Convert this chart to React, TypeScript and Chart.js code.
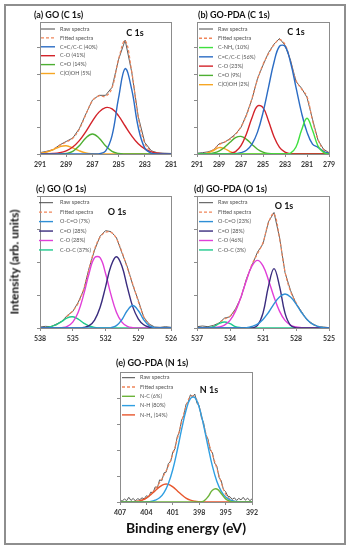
import React, { useEffect, useRef } from "react";
import { Chart, registerables } from "chart.js";
Chart.register(...registerables);

const W = 352;
const H = 550;
const FONT = "Lato, 'Open Sans', sans-serif";
const XAXIS_H = 18;

// ---------- (a) GO (C 1s) ----------
const aEnergy = [291, 290.5, 290, 289.5, 289, 288.5, 288, 287.5, 287, 286.5, 286, 285.5, 285, 284.5, 284, 283.5, 283, 282.5, 282, 281.5, 281];
const aTicks = [291, 289, 287, 285, 283, 281];
const aRaw = [0.05, 0.1, 0.16, 0.34, 0.47, 0.6, 0.95, 1.5, 2.02, 2.2, 2.2, 2.5, 3.55, 4.27, 3.08, 1.4, 0.43, 0.12, 0.04, 0.03, 0.02];
const aFitted = [0.02, 0.08, 0.18, 0.32, 0.45, 0.59, 0.93, 1.48, 1.99, 2.18, 2.16, 2.48, 3.56, 4.25, 3.1, 1.38, 0.41, 0.11, 0.03, 0.01, 0];
const aCC = [0, 0, 0, 0, 0, 0, 0, 0, 0, 0.01, 0.11, 0.69, 2.11, 3.2, 2.42, 1.0, 0.22, 0.03, 0, 0, 0];
const aCO = [0, 0.01, 0.02, 0.05, 0.12, 0.26, 0.5, 0.84, 1.23, 1.57, 1.74, 1.69, 1.43, 1.05, 0.68, 0.38, 0.19, 0.08, 0.03, 0.01, 0];
const aCdO = [0, 0, 0, 0, 0.02, 0.1, 0.31, 0.6, 0.75, 0.6, 0.31, 0.1, 0.02, 0, 0, 0, 0, 0, 0, 0, 0];
const aCOOH = [0.02, 0.07, 0.16, 0.27, 0.31, 0.23, 0.12, 0.04, 0.01, 0, 0, 0, 0, 0, 0, 0, 0, 0, 0, 0, 0];

// ---------- (b) GO-PDA (C 1s) ----------
const bEnergy = [291, 290.5, 290, 289.5, 289, 288.5, 288, 287.5, 287, 286.5, 286, 285.5, 285, 284.5, 284, 283.5, 283, 282.5, 282, 281.5, 281, 280.5, 280, 279.5, 279];
const bTicks = [291, 289, 287, 285, 283, 281, 279];
const bRaw = [0.03, 0.05, 0.08, 0.15, 0.38, 0.44, 0.58, 0.75, 1.0, 1.48, 2.06, 2.83, 3.33, 3.8, 4.12, 4.33, 4.08, 3.52, 2.72, 2.47, 2.12, 1.3, 0.52, 0.18, 0.05];
const bFitted = [0, 0.01, 0.05, 0.17, 0.35, 0.45, 0.55, 0.73, 1.02, 1.45, 2.09, 2.8, 3.36, 3.76, 4.09, 4.29, 4.11, 3.48, 2.76, 2.44, 2.16, 1.26, 0.55, 0.16, 0.03];
const bCNH2 = [0, 0, 0, 0, 0, 0, 0, 0, 0, 0, 0, 0, 0, 0, 0, 0, 0, 0.03, 0.26, 0.89, 1.34, 0.89, 0.3, 0.06, 0];
const bCC = [0, 0, 0, 0, 0, 0, 0, 0.01, 0.05, 0.14, 0.37, 0.82, 1.55, 2.5, 3.44, 4.04, 4.04, 3.44, 2.5, 1.55, 0.82, 0.37, 0.25, 0.1, 0.03];
const bCO = [0, 0, 0, 0, 0, 0, 0.02, 0.09, 0.31, 0.76, 1.36, 1.8, 1.74, 1.24, 0.65, 0.25, 0.07, 0.01, 0, 0, 0, 0, 0, 0, 0];
const bCdO = [0, 0, 0.01, 0.04, 0.11, 0.25, 0.44, 0.61, 0.66, 0.55, 0.36, 0.18, 0.07, 0.02, 0, 0, 0, 0, 0, 0, 0, 0, 0, 0, 0];
const bCOOH = [0, 0.01, 0.04, 0.13, 0.24, 0.2, 0.09, 0.02, 0, 0, 0, 0, 0, 0, 0, 0, 0, 0, 0, 0, 0, 0, 0, 0, 0];

// ---------- (c) GO (O 1s) ----------
const cEnergy = [538, 537.5, 537, 536.5, 536, 535.5, 535, 534.5, 534, 533.5, 533, 532.5, 532, 531.5, 531, 530.5, 530, 529.5, 529, 528.5, 528, 527.5, 527, 526.5, 526];
const cTicks = [538, 535, 532, 529, 526];
const cRaw = [0.03, 0.05, 0.04, 0.12, 0.2, 0.38, 0.5, 0.78, 1.15, 1.82, 2.36, 2.78, 2.95, 2.92, 2.74, 2.28, 1.85, 1.3, 0.84, 0.33, 0.12, 0.03, 0.02, 0.04, 0.02];
const cFitted = [0, 0.01, 0.04, 0.1, 0.21, 0.36, 0.52, 0.75, 1.18, 1.79, 2.39, 2.75, 2.9, 2.9, 2.71, 2.31, 1.82, 1.33, 0.81, 0.35, 0.1, 0.01, 0, 0, 0];
const cOCO = [0, 0, 0, 0, 0, 0, 0, 0, 0, 0, 0, 0, 0, 0.01, 0.07, 0.25, 0.53, 0.68, 0.53, 0.25, 0.07, 0.01, 0, 0, 0];
const cCdO = [0, 0, 0, 0, 0, 0, 0, 0, 0.02, 0.07, 0.24, 0.62, 1.24, 1.88, 2.16, 1.88, 1.24, 0.64, 0.28, 0.1, 0.03, 0, 0, 0, 0];
const cCO = [0, 0, 0, 0, 0.01, 0.05, 0.18, 0.48, 1.01, 1.66, 2.13, 2.13, 1.66, 1.01, 0.48, 0.18, 0.05, 0.01, 0, 0, 0, 0, 0, 0, 0];
const cCOC = [0, 0.01, 0.04, 0.1, 0.2, 0.31, 0.34, 0.27, 0.15, 0.06, 0.02, 0, 0, 0, 0, 0, 0, 0, 0, 0, 0, 0, 0, 0, 0];

// ---------- (d) GO-PDA (O 1s) ----------
const dEnergy = [537, 536.5, 536, 535.5, 535, 534.5, 534, 533.5, 533, 532.5, 532, 531.5, 531, 530.5, 530, 529.5, 529, 528.5, 528, 527.5, 527, 526.5, 526, 525.5, 525];
const dTicks = [537, 534, 531, 528, 525];
const dRaw = [0.04, 0.06, 0.04, 0.08, 0.15, 0.3, 0.34, 0.58, 0.92, 1.5, 1.9, 2.3, 2.55, 3.22, 3.5, 2.75, 1.68, 1.14, 0.74, 0.5, 0.24, 0.13, 0.04, 0.03, 0.01];
const dFitted = [0, 0, 0.01, 0.05, 0.16, 0.27, 0.36, 0.55, 0.95, 1.46, 1.93, 2.25, 2.59, 3.19, 3.47, 2.72, 1.71, 1.11, 0.77, 0.48, 0.26, 0.12, 0.05, 0.01, 0];
const dOCO = [0, 0, 0, 0, 0, 0, 0, 0, 0, 0.01, 0.05, 0.12, 0.26, 0.47, 0.73, 0.94, 1.03, 0.94, 0.73, 0.47, 0.26, 0.12, 0.05, 0.01, 0];
const dCdO = [0, 0, 0, 0, 0, 0, 0, 0, 0, 0, 0, 0.08, 0.45, 1.27, 1.8, 1.27, 0.45, 0.08, 0.01, 0, 0, 0, 0, 0, 0];
const dCO = [0, 0, 0, 0.01, 0.03, 0.09, 0.23, 0.51, 0.94, 1.45, 1.88, 2.05, 1.88, 1.45, 0.94, 0.51, 0.23, 0.09, 0.03, 0.01, 0, 0, 0, 0, 0];
const dCOC = [0, 0, 0.01, 0.04, 0.13, 0.18, 0.13, 0.04, 0.01, 0, 0, 0, 0, 0, 0, 0, 0, 0, 0, 0, 0, 0, 0, 0, 0];

// ---------- (e) GO-PDA (N 1s) ----------
const eEnergy = [407, 406.5, 406, 405.5, 405, 404.5, 404, 403.5, 403, 402.5, 402, 401.5, 401, 400.5, 400, 399.5, 399, 398.5, 398, 397.5, 397, 396.5, 396, 395.5, 395, 394.5, 394, 393.5, 393, 392.5, 392];
const eTicks = [407, 404, 401, 398, 395, 392];
const eRawEnergy = [407, 406.75, 406.5, 406.25, 406, 405.75, 405.5, 405.25, 405, 404.75, 404.5, 404.25, 404, 403.75, 403.5, 403.25, 403, 402.75, 402.5, 402.25, 402, 401.75, 401.5, 401.25, 401, 400.75, 400.5, 400.25, 400, 399.75, 399.5, 399.25, 399, 398.75, 398.5, 398.25, 398, 397.75, 397.5, 397.25, 397, 396.75, 396.5, 396.25, 396, 395.75, 395.5, 395.25, 395, 394.75, 394.5, 394.25, 394, 393.75, 393.5, 393.25, 393, 392.75, 392.5, 392.25, 392];
const eRaw = [0.08, 0.03, 0.12, 0.05, 0.18, 0.06, 0.14, 0.04, 0.13, 0.09, 0.16, 0.12, 0.24, 0.2, 0.38, 0.35, 0.58, 0.55, 0.85, 0.82, 1.12, 1.15, 1.48, 1.55, 1.92, 2.05, 2.5, 2.7, 3.15, 3.32, 3.75, 3.85, 4.12, 4.05, 4.15, 3.8, 3.7, 3.25, 3.05, 2.58, 2.42, 2.0, 1.9, 1.5, 1.38, 0.95, 0.82, 0.48, 0.4, 0.22, 0.2, 0.1, 0.16, 0.06, 0.14, 0.08, 0.18, 0.07, 0.15, 0.05, 0.12];
const eFitted = [0, 0, 0, 0.01, 0.03, 0.07, 0.16, 0.3, 0.5, 0.74, 1.04, 1.39, 1.83, 2.41, 3.07, 3.67, 4.05, 4.05, 3.65, 2.98, 2.34, 1.83, 1.3, 0.75, 0.31, 0.11, 0.03, 0.01, 0, 0, 0];
const eNC = [0, 0, 0, 0, 0, 0, 0, 0, 0, 0, 0, 0, 0, 0, 0, 0, 0, 0, 0, 0.03, 0.2, 0.45, 0.5, 0.33, 0.12, 0.03, 0, 0, 0, 0, 0];
const eNH = [0, 0, 0, 0, 0, 0, 0.01, 0.02, 0.07, 0.16, 0.36, 0.71, 1.25, 1.98, 2.79, 3.52, 3.98, 4.02, 3.64, 2.95, 2.14, 1.38, 0.8, 0.42, 0.19, 0.08, 0.03, 0.01, 0, 0, 0];
const eNH2 = [0, 0, 0, 0.01, 0.03, 0.07, 0.15, 0.28, 0.43, 0.58, 0.68, 0.68, 0.58, 0.43, 0.28, 0.15, 0.07, 0.03, 0.01, 0, 0, 0, 0, 0, 0, 0, 0, 0, 0, 0, 0];

// ---------- colours ----------
const RAW = "#4a4a4a";
const FIT = "#f0855a";
const C_BLUE = "#2b6cc4";
const C_RED = "#d3232a";
const C_GREEN = "#4daf32";
const C_ORANGE = "#f6a623";
const C_LIME = "#3fe03f";
const O_SKY = "#2f8fd6";
const O_INDIGO = "#3a2c7e";
const O_MAGENTA = "#e03fd8";
const O_TEAL = "#1ec98c";
const N_GREEN = "#6cb33a";
const N_BLUE = "#2f9fe2";
const N_RED = "#e8572d";

type Series = { label: string; energy: number[]; values: number[]; color: string; kind: "raw" | "fit" | "comp" };
type Panel = {
  key: string;
  box: [number, number, number, number];
  xMin: number; xMax: number; ticks: number[]; yMax: number; yTicks: number[];
  title: string; titleX: number; titleY: number;
  peak: string; peakX: number; peakY: number;
  legend: { x0: number; x1: number; tx: number; y0: number; dy: number };
  series: Series[];
};

const rawS = (e: number[], v: number[]): Series => ({ label: "Raw spectra", energy: e, values: v, color: RAW, kind: "raw" });
const fitS = (e: number[], v: number[]): Series => ({ label: "Fitted spectra", energy: e, values: v, color: FIT, kind: "fit" });
const comp = (label: string, e: number[], v: number[], color: string): Series => ({ label, energy: e, values: v, color, kind: "comp" });

const panels: Panel[] = [
  {
    key: "a", box: [40, 22, 171, 154], xMin: 281, xMax: 291, ticks: aTicks, yMax: 4.95, yTicks: [0, 1, 2, 3, 4],
    title: "(a) GO (C 1s)", titleX: 34, titleY: 15, peak: "C 1s", peakX: 135, peakY: 33,
    legend: { x0: 41, x1: 55, tx: 60, y0: 29, dy: 8.9 },
    series: [rawS(aEnergy, aRaw), fitS(aEnergy, aFitted), comp("C=C/C-C (40%)", aEnergy, aCC, C_BLUE), comp("C-O (41%)", aEnergy, aCO, C_RED), comp("C=O (14%)", aEnergy, aCdO, C_GREEN), comp("C(O)OH (5%)", aEnergy, aCOOH, C_ORANGE)],
  },
  {
    key: "b", box: [197, 22, 329, 154], xMin: 279, xMax: 291, ticks: bTicks, yMax: 4.95, yTicks: [0, 1, 2, 3, 4],
    title: "(b) GO-PDA (C 1s)", titleX: 198, titleY: 15, peak: "C 1s", peakX: 296, peakY: 32,
    legend: { x0: 199, x1: 213, tx: 218, y0: 29, dy: 9.28 },
    series: [rawS(bEnergy, bRaw), fitS(bEnergy, bFitted), comp("C-NH\u2082 (10%)", bEnergy, bCNH2, C_LIME), comp("C=C/C-C (56%)", bEnergy, bCC, C_BLUE), comp("C-O (23%)", bEnergy, bCO, C_RED), comp("C=O (9%)", bEnergy, bCdO, C_GREEN), comp("C(O)OH (2%)", bEnergy, bCOOH, C_ORANGE)],
  },
  {
    key: "c", box: [40, 196, 171, 328], xMin: 526, xMax: 538, ticks: cTicks, yMax: 4, yTicks: [0, 1, 2, 3, 4],
    title: "(c) GO (O 1s)", titleX: 36, titleY: 189, peak: "O 1s", peakX: 117, peakY: 212.5,
    legend: { x0: 39, x1: 53, tx: 60, y0: 202.7, dy: 9.45 },
    series: [rawS(cEnergy, cRaw), fitS(cEnergy, cFitted), comp("O-C=O (7%)", cEnergy, cOCO, O_SKY), comp("C=O (28%)", cEnergy, cCdO, O_INDIGO), comp("C-O (28%)", cEnergy, cCO, O_MAGENTA), comp("C-O-C (37%)", cEnergy, cCOC, O_TEAL)],
  },
  {
    key: "d", box: [197, 196, 329, 328], xMin: 525, xMax: 537, ticks: dTicks, yMax: 4, yTicks: [0, 1, 2, 3, 4],
    title: "(d) GO-PDA (O 1s)", titleX: 194, titleY: 189, peak: "O 1s", peakX: 284, peakY: 206.5,
    legend: { x0: 199, x1: 213, tx: 218, y0: 202.7, dy: 9.45 },
    series: [rawS(dEnergy, dRaw), fitS(dEnergy, dFitted), comp("O-C=O (23%)", dEnergy, dOCO, O_SKY), comp("C=O (28%)", dEnergy, dCdO, O_INDIGO), comp("C-O (46%)", dEnergy, dCO, O_MAGENTA), comp("C-O-C (3%)", dEnergy, dCOC, O_TEAL)],
  },
  {
    key: "e", box: [120, 372, 252, 502], xMin: 392, xMax: 407, ticks: eTicks, yMax: 5, yTicks: [0, 1, 2, 3, 4],
    title: "(e) GO-PDA (N 1s)", titleX: 116, titleY: 363, peak: "N 1s", peakX: 209, peakY: 390,
    legend: { x0: 122, x1: 135, tx: 140, y0: 377.7, dy: 9.3 },
    series: [rawS(eRawEnergy, eRaw), fitS(eEnergy, eFitted), comp("N-C (6%)", eEnergy, eNC, N_GREEN), comp("N-H (80%)", eEnergy, eNH, N_BLUE), comp("N-H\u2082 (14%)", eEnergy, eNH2, N_RED)],
  },
];

function decor(p: Panel) {
  return {
    id: "decor" + p.key,
    afterDraw(chart: any) {
      const ctx = chart.ctx as CanvasRenderingContext2D;
      const a = chart.chartArea;
      ctx.save();
      ctx.strokeStyle = "#8c8c8c";
      ctx.lineWidth = 1;
      ctx.strokeRect(Math.round(a.left) + 0.5, Math.round(a.top) + 0.5, Math.round(a.right - a.left), Math.round(a.bottom - a.top));
      ctx.textBaseline = "middle";
      ctx.fillStyle = "#111";
      ctx.textAlign = "left";
      ctx.font = `bold 9px ${FONT}`;
      ctx.fillText(p.title, p.titleX, p.titleY);
      ctx.textAlign = "center";
      ctx.font = `bold 9px ${FONT}`;
      ctx.fillText(p.peak, p.peakX, p.peakY);
      ctx.textAlign = "left";
      ctx.font = `5.5px ${FONT}`;
      p.series.forEach((s, i) => {
        const y = p.legend.y0 + i * p.legend.dy;
        ctx.beginPath();
        ctx.strokeStyle = s.color;
        ctx.lineWidth = s.kind === "raw" ? 1 : 1.4;
        ctx.setLineDash(s.kind === "fit" ? [3, 2] : []);
        ctx.moveTo(p.legend.x0, y);
        ctx.lineTo(p.legend.x1, y);
        ctx.stroke();
        ctx.setLineDash([]);
        ctx.fillStyle = "#555";
        ctx.fillText(s.label, p.legend.tx, y);
      });
      ctx.restore();
    },
  };
}

function PanelChart({ p }: { p: Panel }) {
  const ref = useRef<HTMLCanvasElement>(null);
  useEffect(() => {
    const [l, t, r, b] = p.box;
    const chart = new Chart(ref.current as HTMLCanvasElement, {
      type: "line",
      data: {
        datasets: p.series.map((s) => ({
          label: s.label,
          data: s.energy.map((x, i) => ({ x, y: s.values[i] })),
          borderColor: s.color,
          backgroundColor: s.color,
          borderWidth: s.kind === "raw" ? 0.9 : s.kind === "fit" ? 1.2 : 1.4,
          borderDash: s.kind === "fit" ? [3, 2] : [],
          pointRadius: 0,
          fill: false,
          tension: s.kind === "raw" ? 0 : 0.4,
          order: s.kind === "raw" ? 3 : s.kind === "fit" ? 2 : 1,
        })),
      },
      options: {
        responsive: false,
        animation: false,
        devicePixelRatio: 1,
        events: [],
        layout: { padding: { left: l, top: t, right: W - r, bottom: H - b - XAXIS_H } },
        plugins: { legend: { display: false }, tooltip: { enabled: false }, title: { display: false } },
        scales: {
          x: {
            type: "linear",
            min: p.xMin,
            max: p.xMax,
            reverse: true,
            afterBuildTicks: (s: any) => { s.ticks = p.ticks.map((v) => ({ value: v })); },
            afterFit: (s: any) => { s.height = XAXIS_H; },
            grid: { drawOnChartArea: false, drawTicks: true, tickLength: 3, color: "#8c8c8c" },
            border: { display: false },
            ticks: { font: { family: FONT, size: 7, weight: "bold" }, color: "#333", padding: 4, maxRotation: 0, minRotation: 0, autoSkip: false },
          },
          y: {
            type: "linear",
            min: 0,
            max: p.yMax,
            afterBuildTicks: (s: any) => { s.ticks = p.yTicks.map((v) => ({ value: v })); },
            afterFit: (s: any) => { s.width = 0; },
            grid: { drawOnChartArea: false, drawTicks: true, tickLength: 3, color: "#8c8c8c" },
            border: { display: false },
            ticks: { display: false },
          },
        },
      } as any,
      plugins: [decor(p)],
    });
    return () => chart.destroy();
  }, [p]);
  return <canvas ref={ref} width={W} height={H} style={{ position: "absolute", left: 0, top: 0, width: W, height: H }} />;
}

export default function App() {
  return (
    <div style={{ position: "absolute", left: 0, top: 0, width: W, height: H, background: "#fff", overflow: "hidden" }}>
      <div style={{ position: "absolute", left: 4, top: 4, width: 342, height: 541, boxSizing: "border-box", border: "2px solid #8e8e8e" }} />
      {panels.map((p) => (
        <PanelChart key={p.key} p={p} />
      ))}
      <div style={{ position: "absolute", left: 14, top: 262, transform: "translate(-50%, -50%) rotate(-90deg)", whiteSpace: "nowrap", font: `bold 12px ${FONT}`, color: "#111" }}>
        Intensity (arb. units)
      </div>
      <div style={{ position: "absolute", left: 186, top: 527, transform: "translate(-50%, -50%)", whiteSpace: "nowrap", font: `bold 14px ${FONT}`, color: "#111" }}>
        Binding energy (eV)
      </div>
    </div>
  );
}
